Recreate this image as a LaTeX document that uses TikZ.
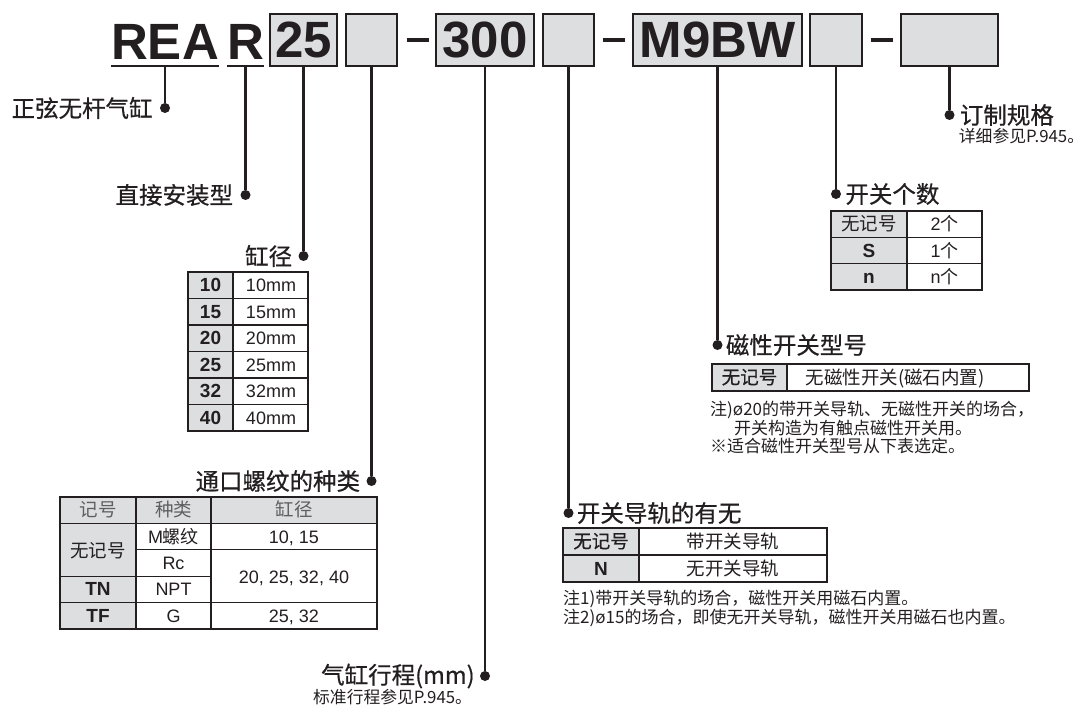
\documentclass[tikz,border=0pt]{standalone}
\usepackage{fontspec}
\setmainfont{Liberation Sans}
\newfontfamily\cjk{Noto Sans CJK SC}
\newfontfamily\cjkm[FakeBold=0.6]{Noto Sans CJK SC}
\usetikzlibrary{positioning}
\definecolor{ink}{RGB}{35,31,32}
\definecolor{cellgray}{RGB}{221,222,224}
\definecolor{headgray}{RGB}{95,95,95}
\begin{document}
\begin{tikzpicture}[x=1pt,y=-1pt]
    \tikzstyle{vertex}=[circle,fill=ink,minimum size=10pt,inner sep=0pt]
    \tikzstyle{leader}=[draw=ink,line width=2.4pt]
    \tikzstyle{codetxt}=[text=ink,font=\fontsize{51}{51}\selectfont\bfseries,inner sep=0pt]
    \tikzstyle{codebox}=[codetxt,draw=ink,fill=cellgray,line width=2pt,minimum height=52pt]
    \tikzstyle{lbl}=[text=ink,font=\cjkm\fontsize{23.5}{26}\selectfont,inner sep=0pt]
    \tikzstyle{sublbl}=[text=ink,font=\cjk\fontsize{16.8}{19}\selectfont,inner sep=0pt]
    \tikzstyle{notetxt}=[text=ink,font=\cjk\fontsize{17}{19}\selectfont,inner sep=0pt,anchor=west]
    \tikzstyle{celltxt}=[text=ink,font=\fontsize{18}{20}\selectfont,inner sep=0pt,text height=13pt,text depth=0pt]
    \tikzstyle{cellbold}=[celltxt,font=\fontsize{19}{21}\selectfont\bfseries]
    \tikzstyle{cellzh}=[celltxt,font=\cjk\fontsize{18.5}{20}\selectfont]
    \tikzstyle{cellzhb}=[celltxt,font=\cjkm\fontsize{18.5}{20}\selectfont]
    \tikzstyle{tblrule}=[draw=ink,line width=1.2pt]
    \tikzstyle{tbltop}=[draw=ink,line width=2.6pt]
    \useasboundingbox (0,0) rectangle (1089,706);

    \node[codetxt,anchor=base] (t_rea) at (165,60) {REA};
    \node[codetxt,anchor=base] (t_r) at (245.5,60) {R};
    \coordinate (u_rea) at ([yshift=-6pt]t_rea.base);
    \coordinate (u_r) at ([yshift=-6pt]t_r.base);
    \draw[ink,line width=2pt] ([yshift=-6pt]t_rea.base west) -- ([yshift=-6pt]t_rea.base east);
    \draw[ink,line width=2pt] ([yshift=-6pt]t_r.base west) -- ([yshift=-6pt]t_r.base east);
    \node[codebox,minimum width=67pt] (b_25) at (303.5,40) {25};
    \node[codebox,minimum width=51pt] (b_e1) at (371.5,40) {};
    \node[codebox,minimum width=98pt] (b_300) at (485,40) {300};
    \node[codebox,minimum width=51pt] (b_e2) at (568.5,40) {};
    \node[codebox,minimum width=169pt] (b_m9) at (717.5,40) {M9BW};
    \node[codebox,minimum width=52pt] (b_e3) at (836,40) {};
    \node[codebox,minimum width=97pt] (b_e4) at (949.5,40) {};
    \foreach \x in {417.5,613.5,881.5} \draw[ink,line width=4.5pt] (\x-11,40) -- (\x+11,40);

    \node[vertex] (d_rea) at (165,108) {};
    \node[vertex] (d_r) at (245.5,195) {};
    \node[vertex] (d_25) at (303.5,256) {};
    \node[vertex] (d_e1) at (371.5,481) {};
    \node[vertex] (d_300) at (485,676) {};
    \node[vertex] (d_e2) at (568.5,513) {};
    \node[vertex] (d_m9) at (717.5,345) {};
    \node[vertex] (d_e3) at (836,194) {};
    \node[vertex] (d_e4) at (949.5,115) {};
    \draw[leader] (u_rea) -- (d_rea);
    \draw[leader] (u_r) -- (d_r);
    \draw[leader] (b_25.south) -- (d_25);
    \draw[leader] (b_e1.south) -- (d_e1);
    \draw[leader] (b_300.south) -- (d_300);
    \draw[leader] (b_e2.south) -- (d_e2);
    \draw[leader] (b_m9.south) -- (d_m9);
    \draw[leader] (b_e3.south) -- (d_e3);
    \draw[leader] (b_e4.south) -- (d_e4);

    \node[lbl,left=7pt of d_rea] (l_rea) {正弦无杆气缸};
    \node[lbl,left=7pt of d_r] (l_r) {直接安装型};
    \node[lbl,left=6pt of d_25] (l_25) {缸径};
    \node[lbl,left=6pt of d_e1] (l_e1) {通口螺纹的种类};
    \node[lbl,left=5pt of d_300] (l_300) {气缸行程(mm)};
    \node[sublbl,anchor=north west] (s_300) at ([xshift=-8pt,yshift=-1pt]l_300.south west) {标准行程参见P.945。};
    \node[lbl,right=3pt of d_e2] (l_e2) {开关导轨的有无};
    \node[lbl,right=3pt of d_m9] (l_m9) {磁性开关型号};
    \node[lbl,right=4pt of d_e3] (l_e3) {开关个数};
    \node[lbl,right=5pt of d_e4] (l_e4) {订制规格};
    \node[sublbl,anchor=north west] (s_e4) at ([xshift=-1pt,yshift=-2pt]l_e4.south west) {详细参见P.945。};

    \fill[cellgray] (188,272) rectangle (233,431);
    \foreach \y in {298.5,325,351.5,378,404.5} \draw[tblrule] (188,\y) -- (308,\y);
    \draw[tblrule] (188,272) rectangle (308,431) (233,272) -- (233,431);
    \draw[tbltop] (188,272) -- (308,272);
    \foreach \val [count=\i] in {10,15,20,25,32,40} {
      \node[cellbold] (bore_k\i) at (210.5,{258.75+26.5*\i}) {\val};
      \node[celltxt] (bore_v\i) at (271,{258.75+26.5*\i}) {\val mm};
    }

    \fill[cellgray] (60,497) rectangle (377,523.4) (60,523.4) rectangle (136,629);
    \draw[tblrule] (60,497) rectangle (377,629) (136,497) -- (136,629) (211,497) -- (211,629)
      (60,523.4) -- (377,523.4) (136,549.8) -- (377,549.8) (60,576.2) -- (211,576.2) (60,602.6) -- (377,602.6);
    \draw[tbltop] (60,497) -- (377,497);
    \node[cellzh,text=headgray] (port_h1) at (98,510.2) {记号};
    \node[cellzh,text=headgray] (port_h2) at (173.5,510.2) {种类};
    \node[cellzh,text=headgray] (port_h3) at (294,510.2) {缸径};
    \node[cellzh] (port_k1) at (98,550.5) {无记号};
    \node[cellbold] (port_k2) at (98,589.4) {TN};
    \node[cellbold] (port_k3) at (98,615.8) {TF};
    \node[celltxt] (port_t1) at (173.5,536.6) {M{\cjk 螺纹}};
    \node[celltxt] (port_t2) at (173.5,563) {Rc};
    \node[celltxt] (port_t3) at (173.5,589.4) {NPT};
    \node[celltxt] (port_t4) at (173.5,615.8) {G};
    \node[celltxt] (port_s1) at (294,536.6) {10, 15};
    \node[celltxt] (port_s2) at (294,577) {20, 25, 32, 40};
    \node[celltxt] (port_s3) at (294,615.8) {25, 32};

    \fill[cellgray] (563,528) rectangle (639,582);
    \draw[tblrule] (563,528) rectangle (827,582) (639,528) -- (639,582) (563,555) -- (827,555);
    \draw[tbltop] (563,528) -- (827,528);
    \node[cellzhb] (rail_k1) at (601,541.5) {无记号};
    \node[cellbold] (rail_k2) at (601,568.5) {N};
    \node[cellzh] (rail_v1) at (733,541.5) {带开关导轨};
    \node[cellzh] (rail_v2) at (733,568.5) {无开关导轨};
    \node[notetxt] (rail_n1) at (563,599) {注1)带开关导轨的场合，磁性开关用磁石内置。};
    \node[notetxt] (rail_n2) at (563,618) {注2)ø15的场合，即使无开关导轨，磁性开关用磁石也内置。};

    \fill[cellgray] (712,364) rectangle (787,391);
    \draw[tblrule] (712,364) rectangle (1029,391) (787,364) -- (787,391);
    \draw[tbltop] (712,364) -- (1029,364);
    \node[cellzhb] (mdl_k1) at (749.5,377.5) {无记号};
    \node[cellzh] (mdl_v1) at (895,377.5) {无磁性开关(磁石内置)};
    \node[notetxt] (mdl_n1) at (710,410) {注)ø20的带开关导轨、无磁性开关的场合，};
    \node[notetxt] (mdl_n2) at (734,428) {开关构造为有触点磁性开关用。};
    \node[notetxt] (mdl_n3) at (710,446) {※适合磁性开关型号从下表选定。};

    \fill[cellgray] (831,211) rectangle (907,290);
    \draw[tblrule] (831,211) rectangle (982,290) (907,211) -- (907,290) (831,237.3) -- (982,237.3) (831,263.7) -- (982,263.7);
    \draw[tbltop] (831,211) -- (982,211);
    \node[cellzh] (cnt_k1) at (869,224.2) {无记号};
    \node[cellbold] (cnt_k2) at (869,250.5) {S};
    \node[cellbold] (cnt_k3) at (869,276.8) {n};
    \node[celltxt] (cnt_v1) at (944.5,224.2) {2{\cjk 个}};
    \node[celltxt] (cnt_v2) at (944.5,250.5) {1{\cjk 个}};
    \node[celltxt] (cnt_v3) at (944.5,276.8) {n{\cjk 个}};
\end{tikzpicture}
\end{document}
